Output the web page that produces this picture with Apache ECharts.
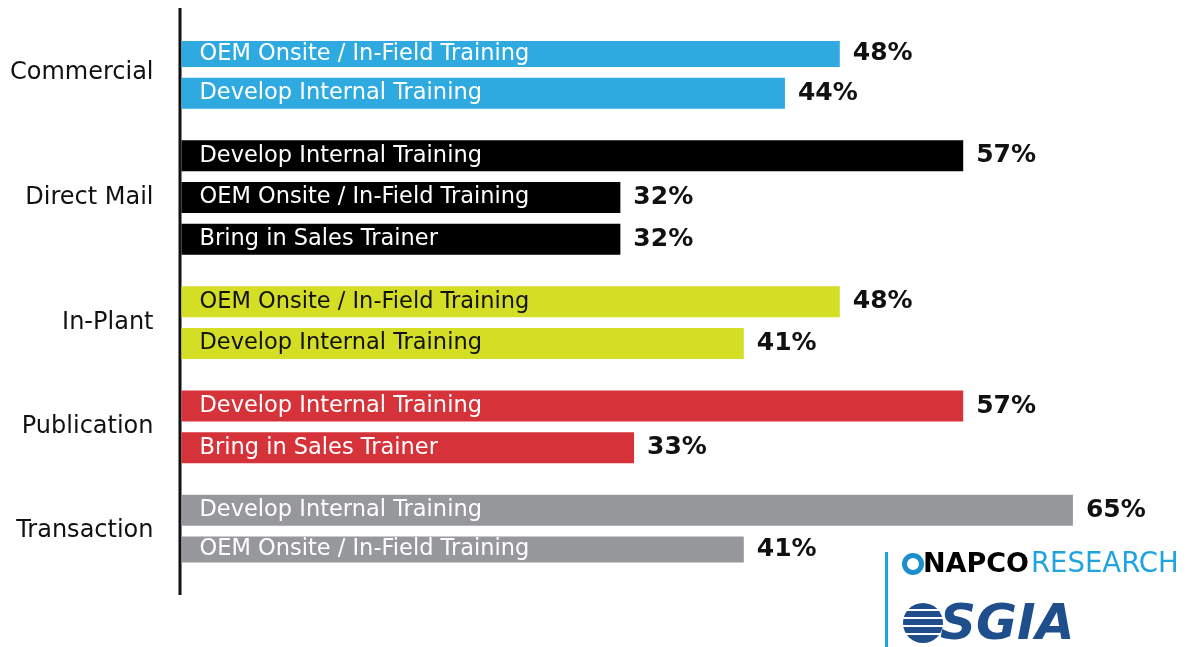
<!DOCTYPE html>
<html>
<head>
<meta charset="utf-8">
<script src="https://cdn.jsdelivr.net/npm/echarts@6/dist/echarts.min.js"></script>
<style>
  html, body { margin: 0; padding: 0; background: #fff; }
  #chart { width: 1192px; height: 647px; }
</style>
</head>
<body>
<div id="chart"></div>
<script>
// segments and what each one does for sales training (share of respondents, %)
const segments = ['Commercial', 'Direct Mail', 'In-Plant', 'Publication', 'Transaction']
const methods = [
  ['OEM Onsite / In-Field Training', 'Develop Internal Training'],
  ['Develop Internal Training', 'OEM Onsite / In-Field Training', 'Bring in Sales Trainer'],
  ['OEM Onsite / In-Field Training', 'Develop Internal Training'],
  ['Develop Internal Training', 'Bring in Sales Trainer'],
  ['Develop Internal Training', 'OEM Onsite / In-Field Training']
]
const shares = [
  [48, 44],
  [57, 32, 32],
  [48, 41],
  [57, 33],
  [65, 41]
]

const segmentColors = ['#2eaae1', '#000000', '#d4de24', '#d6323a', '#97989c']
const textColors = ['#ffffff', '#ffffff', '#111111', '#ffffff', '#ffffff']

// lay bars out on a category axis: one blank slot between bars, two between groups
const slots = []
const slotLabels = []
const barData = []
const valueData = []
segments.forEach((seg, g) => {
  if (g > 0) {
    for (let k = 0; k < 2; k++) {
      slots.push('gap' + slots.length); slotLabels.push(''); barData.push('-'); valueData.push('-')
    }
  }
  const start = slots.length
  shares[g].forEach((v, j) => {
    if (j > 0) {
      slots.push('gap' + slots.length); slotLabels.push(''); barData.push('-'); valueData.push('-')
    }
    slots.push('bar' + slots.length)
    slotLabels.push('')
    barData.push({
      value: v,
      itemStyle: { color: segmentColors[g] },
      label: { formatter: methods[g][j], color: textColors[g] }
    })
    valueData.push(v)
  })
  const mid = Math.floor((start + slots.length - 1) / 2)
  slotLabels[mid] = seg
})

const chart = echarts.init(document.getElementById('chart'))
chart.setOption({
  backgroundColor: '#ffffff',
  animation: false,
  grid: {
    left: 181.5,
    right: 50.5,
    top: 41,
    bottom: 84.5
  },
  xAxis: {
    type: 'value',
    min: 0,
    max: 70,
    show: false
  },
  yAxis: {
    type: 'category',
    inverse: true,
    data: slots,
    axisLine: { show: false },
    axisTick: { show: false },
    axisLabel: {
      margin: 28,
      interval: 0,
      color: '#111111',
      fontFamily: 'DejaVu Sans',
      fontSize: 24,
      formatter: (val, idx) => slotLabels[idx]
    }
  },
  series: [
    {
      type: 'bar',
      barWidth: 31,
      data: barData,
      label: {
        show: true,
        position: 'insideLeft',
        distance: 18,
        fontFamily: 'DejaVu Sans',
        fontSize: 22.5
      }
    },
    {
      type: 'bar',
      barWidth: 31,
      barGap: '-100%',
      silent: true,
      itemStyle: { color: 'rgba(0,0,0,0)' },
      data: valueData,
      label: {
        show: true,
        position: 'right',
        distance: 13,
        color: '#111111',
        fontFamily: 'DejaVu Sans',
        fontWeight: 'bold',
        fontSize: 25,
        formatter: '{c}%'
      }
    }
  ],
  graphic: [
    // category axis line
    { type: 'rect', shape: { x: 178.5, y: 8, width: 3, height: 587 }, style: { fill: '#111111' } },
    // logo block
    { type: 'rect', shape: { x: 885, y: 552, width: 3, height: 95 }, style: { fill: '#1aa6e0' } },
    { type: 'circle', shape: { cx: 913, cy: 564, r: 8.5 }, style: { fill: 'none', stroke: '#1b8fc9', lineWidth: 5 } },
    { type: 'text', x: 923, y: 565, style: { text: 'NAPCO', fill: '#000000', font: '900 27px "DejaVu Sans"', textVerticalAlign: 'middle' } },
    { type: 'text', x: 1031, y: 565, style: { text: 'RESEARCH', fill: '#1fa4e0', font: '27.5px "DejaVu Sans"', textVerticalAlign: 'middle' } },
    { type: 'circle', shape: { cx: 923, cy: 623, r: 20 }, style: { fill: '#1f4e8c' } },
    { type: 'rect', shape: { x: 900, y: 609, width: 46, height: 2 }, style: { fill: '#ffffff' } },
    { type: 'rect', shape: { x: 900, y: 617, width: 46, height: 2 }, style: { fill: '#ffffff' } },
    { type: 'rect', shape: { x: 900, y: 625, width: 46, height: 2 }, style: { fill: '#ffffff' } },
    { type: 'rect', shape: { x: 900, y: 633, width: 46, height: 2 }, style: { fill: '#ffffff' } },
    { type: 'text', x: 940, y: 626, style: { text: 'SGIA', fill: '#1f4e8c', font: 'italic bold 50px "DejaVu Sans"', textVerticalAlign: 'middle' } }
  ]
})
window.addEventListener('resize', () => chart.resize())
</script>
</body>
</html>
